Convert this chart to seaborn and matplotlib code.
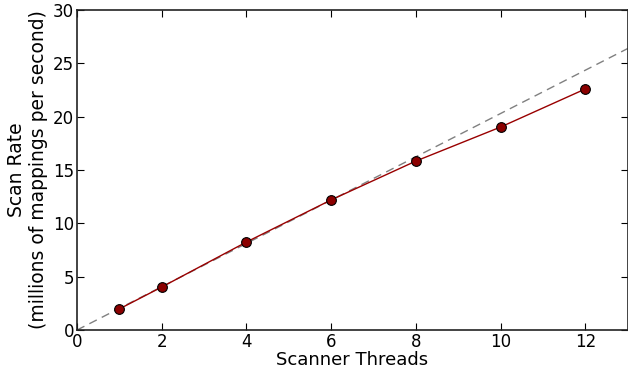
import numpy as np
import pandas as pd
import seaborn as sns
import matplotlib
matplotlib.use("Agg")
import matplotlib.pyplot as plt

# Scan rate measurements
threads = [1, 2, 4, 6, 8, 10, 12]
scan_rate = [1.98, 4.03, 8.25, 12.2, 15.84, 19.03, 22.6]
ideal_slope = 2.03
ideal_x = [0, 13]

sns.set_style("ticks")
plt.rcParams['font.family'] = ['DejaVu Sans']
plt.rcParams['xtick.direction'] = 'in'
plt.rcParams['ytick.direction'] = 'in'
plt.rcParams['text.color'] = 'black'
plt.rcParams['axes.labelcolor'] = 'black'
plt.rcParams['xtick.color'] = 'black'
plt.rcParams['ytick.color'] = 'black'

df = pd.DataFrame({'threads': threads, 'rate': scan_rate})
ideal = pd.DataFrame({'x': ideal_x, 'y': [v * ideal_slope for v in ideal_x]})

fig = plt.figure(figsize=(6.28, 3.70), dpi=100)
ax = fig.add_axes([0.1226, 0.108, 0.877, 0.865])

sns.lineplot(data=ideal, x='x', y='y', ax=ax, color='gray', linewidth=1, dashes=False)
ax.lines[0].set_dashes((6, 4))
sns.lineplot(data=df, x='threads', y='rate', ax=ax, color='#990000', linewidth=1,
             marker='o', markersize=7, markerfacecolor='#8b0000', markeredgecolor='black',
             markeredgewidth=0.8)

ax.set_xlim(0, 13)
ax.set_ylim(0, 30)
ax.set_xticks([0, 2, 4, 6, 8, 10, 12])
ax.set_yticks([0, 5, 10, 15, 20, 25, 30])
ax.tick_params(top=True, right=True, labelsize=12, length=5, width=0.8, pad=2)
for s in ax.spines.values():
    s.set_linewidth(1.2)
    s.set_color('#222222')
ax.set_xlabel('Scanner Threads', fontsize=13, labelpad=0)
ax.set_ylabel('Scan Rate\n(millions of mappings per second)', fontsize=13.5, labelpad=4)

fig.savefig('out.png', dpi=100)
